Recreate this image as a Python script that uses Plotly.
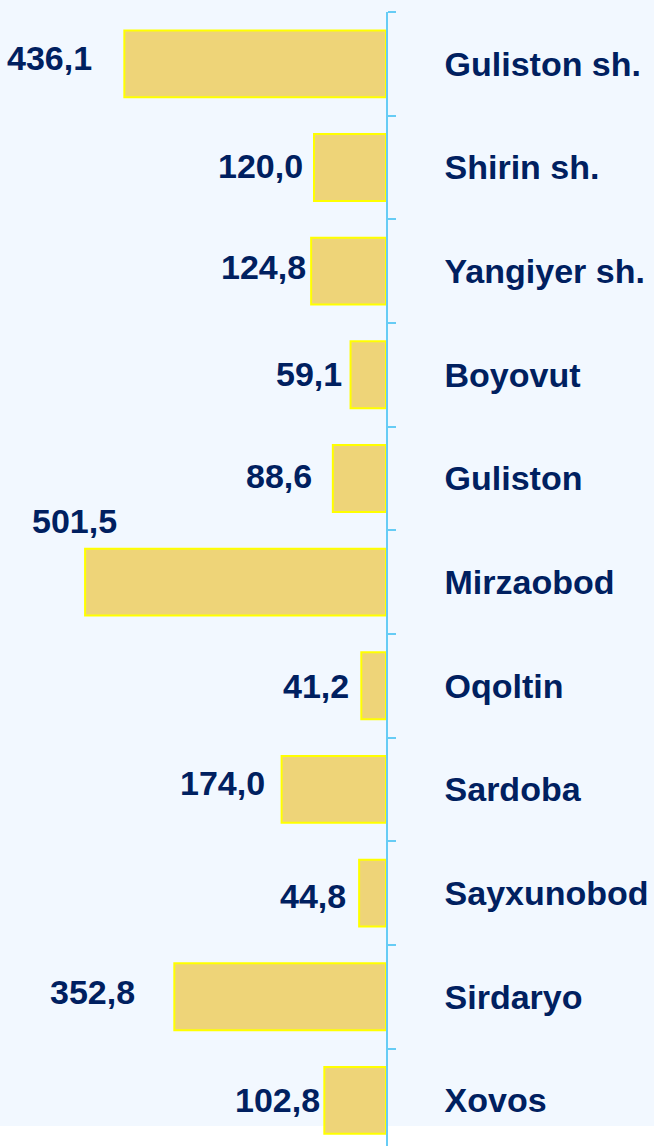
import plotly.graph_objects as go

# ---- data ----
districts = ["Guliston sh.", "Shirin sh.", "Yangiyer sh.", "Boyovut", "Guliston",
             "Mirzaobod", "Oqoltin", "Sardoba", "Sayxunobod", "Sirdaryo", "Xovos"]
values = [436.1, 120.0, 124.8, 59.1, 88.6, 501.5, 41.2, 174.0, 44.8, 352.8, 102.8]
value_labels = ["436,1", "120,0", "124,8", "59,1", "88,6", "501,5",
                "41,2", "174,0", "44,8", "352,8", "102,8"]

# ---- label placement tweaks (pixels) ----
label_dx = [-30, -9, -3, -7, -19, 34, -10, -15, -11, -37, -2]
label_dy = [6, 1, 4, 1, 2, 61, 0, 6, -3, 5, 0]

NAVY = "#002060"
FONT = "Liberation Sans, Arial, sans-serif"

fig = go.Figure()
fig.add_trace(go.Bar(
    y=districts, x=values, orientation="h",
    marker=dict(color="#EED478", line=dict(color="#FFFF00", width=2)),
    hoverinfo="skip",
))

for d, v, t, dx, dy in zip(districts, values, value_labels, label_dx, label_dy):
    fig.add_annotation(
        x=v, y=d, xref="x", yref="y", text=t, showarrow=False,
        xanchor="right", yanchor="middle", xshift=dx, yshift=dy,
        font=dict(family=FONT, size=34, color=NAVY, weight="bold"),
    )

# white strip at the very bottom (outside the light-blue chart area)
fig.add_shape(type="rect", xref="paper", yref="paper",
              x0=-0.1, x1=1.8, y0=-0.05, y1=20 / 1134,
              fillcolor="white", line=dict(width=0), layer="below")

fig.update_layout(
    width=654, height=1146,
    margin=dict(l=0, r=268, t=12, b=0),
    paper_bgcolor="#F2F8FF",
    plot_bgcolor="rgba(0,0,0,0)",
    bargap=0.355,
    showlegend=False,
    xaxis=dict(range=[643.3, 0], visible=False, fixedrange=True),
    yaxis=dict(
        type="category", range=[10.44, -0.5], side="right",
        showline=True, linecolor="#66CCF5", linewidth=1.5,
        ticks="outside", ticklen=8, tickwidth=1.5, tickcolor="#66CCF5",
        tickson="boundaries", showgrid=False, zeroline=False,
        tickfont=dict(family=FONT, size=34, color=NAVY, weight="bold"),
        ticklabelstandoff=50,
    ),
)

fig.write_html("out.html")
